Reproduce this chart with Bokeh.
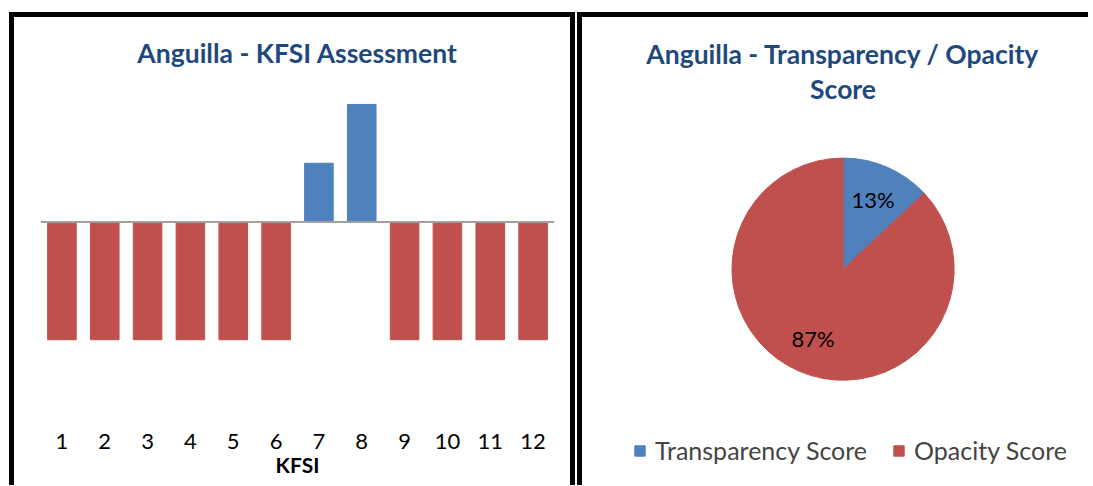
import numpy as np
from bokeh.plotting import figure
from bokeh.models import ColumnDataSource, Span, Label, Legend, LegendItem, Range1d, FactorRange
from bokeh.layouts import row
from bokeh.core.properties import value
from bokeh.embed import file_html
from bokeh.resources import INLINE

# ---------------- data ----------------
kfsi = [str(i) for i in range(1, 13)]
kfsi_values = [-1, -1, -1, -1, -1, -1, 0.5, 1, -1, -1, -1, -1]
pie_labels = ["Transparency Score", "Opacity Score"]
pie_values = [13, 87]

BLUE = "#4F81BD"
RED = "#C0504D"
TITLE_C = "#1F497D"
FONT = "Lato"
TITLE_SIZE = "26.5px"

# ---------------- left: bar chart ----------------
bar_colors = [BLUE if v > 0 else RED for v in kfsi_values]
src = ColumnDataSource(dict(x=kfsi, top=kfsi_values, color=bar_colors))

p1 = figure(x_range=FactorRange(*kfsi), y_range=Range1d(-1.695, 1.229),
            width=566, height=473, output_backend="svg", toolbar_location=None,
            y_axis_location=None, min_border_left=26, min_border_right=26,
            min_border_top=60, min_border_bottom=69)
p1.frame_align = False
p1.vbar(x="x", top="top", bottom=0, width=0.667, color="color", source=src)
p1.add_layout(Span(location=0, dimension="width", line_color="#A0A0A0", line_width=2))
p1.xgrid.visible = False
p1.ygrid.visible = False
p1.outline_line_color = None
ax = p1.xaxis[0]
ax.axis_line_color = None
ax.major_tick_line_color = None
ax.minor_tick_line_color = None
ax.major_label_text_font = FONT
ax.major_label_text_font_size = "22px"
ax.major_label_text_color = "black"
ax.major_label_standoff = 6
ax.axis_label = "KFSI"
ax.axis_label_text_font = FONT
ax.axis_label_text_font_size = "21px"
ax.axis_label_text_font_style = "bold"
ax.axis_label_text_color = "black"
ax.axis_label_standoff = 0
p1.title.text = "Anguilla - KFSI Assessment"
p1.title.align = "center"
p1.title.offset = -4
p1.title.text_font = FONT
p1.title.text_font_size = TITLE_SIZE
p1.title.text_font_style = "bold"
p1.title.text_color = TITLE_C
p1.title.standoff = 18
p1.styles = {"border-top": "5px solid black", "border-left": "5px solid black",
             "border-right": "5px solid black"}
p1.margin = (12, 0, 0, 9)

# ---------------- right: pie chart ----------------
W2, H2 = 506, 468   # canvas == frame, data units == px
p2 = figure(x_range=Range1d(0, W2), y_range=Range1d(0, H2), width=511, height=473,
            output_backend="svg", toolbar_location=None,
            x_axis_location=None, y_axis_location=None, min_border=0)
p2.frame_align = False
p2.xgrid.visible = False
p2.ygrid.visible = False
p2.outline_line_color = None

cx, cy, R = 258, 219, 110
vals = np.array(pie_values, dtype=float)
frac = vals / vals.sum()
ends = np.pi / 2 - 2 * np.pi * np.cumsum(frac)
starts = np.concatenate([[np.pi / 2], ends[:-1]])
mids = (starts + ends) / 2
psrc = ColumnDataSource(dict(start=ends, end=starts, color=[BLUE, RED],
                             label=pie_labels,
                             lx=cx + 0.68 * R * np.cos(mids),
                             ly=cy + 0.68 * R * np.sin(mids),
                             txt=["%d%%" % round(f * 100) for f in frac]))
wr = p2.wedge(x=cx, y=cy, radius=R, start_angle="start", end_angle="end",
              color="color", source=psrc)
p2.text(x="lx", y="ly", text="txt", source=psrc, text_align="center",
        text_baseline="middle", text_font=value(FONT), text_font_size="22px",
        text_color="black")

for t, yy in [("Anguilla - Transparency / Opacity", 432), ("Score", 397)]:
    p2.add_layout(Label(x=cx, y=yy, text=t, text_align="center", text_baseline="middle",
                        text_font=FONT, text_font_size=TITLE_SIZE, text_font_style="bold",
                        text_color=TITLE_C))

legend = Legend(items=[LegendItem(label=pie_labels[i], renderers=[wr], index=i) for i in range(2)],
                orientation="horizontal", location=(51, 25), border_line_color=None,
                background_fill_alpha=0, label_text_font=FONT, label_text_font_size="25px",
                glyph_width=13, glyph_height=13, label_standoff=9, spacing=25,
                padding=0, margin=0)
p2.add_layout(legend)
p2.styles = {"border-top": "5px solid black", "border-left": "5px solid black"}
p2.margin = (12, 0, 0, 2)

layout = row(p1, p2)
open("out.html", "w").write(file_html(layout, INLINE))
